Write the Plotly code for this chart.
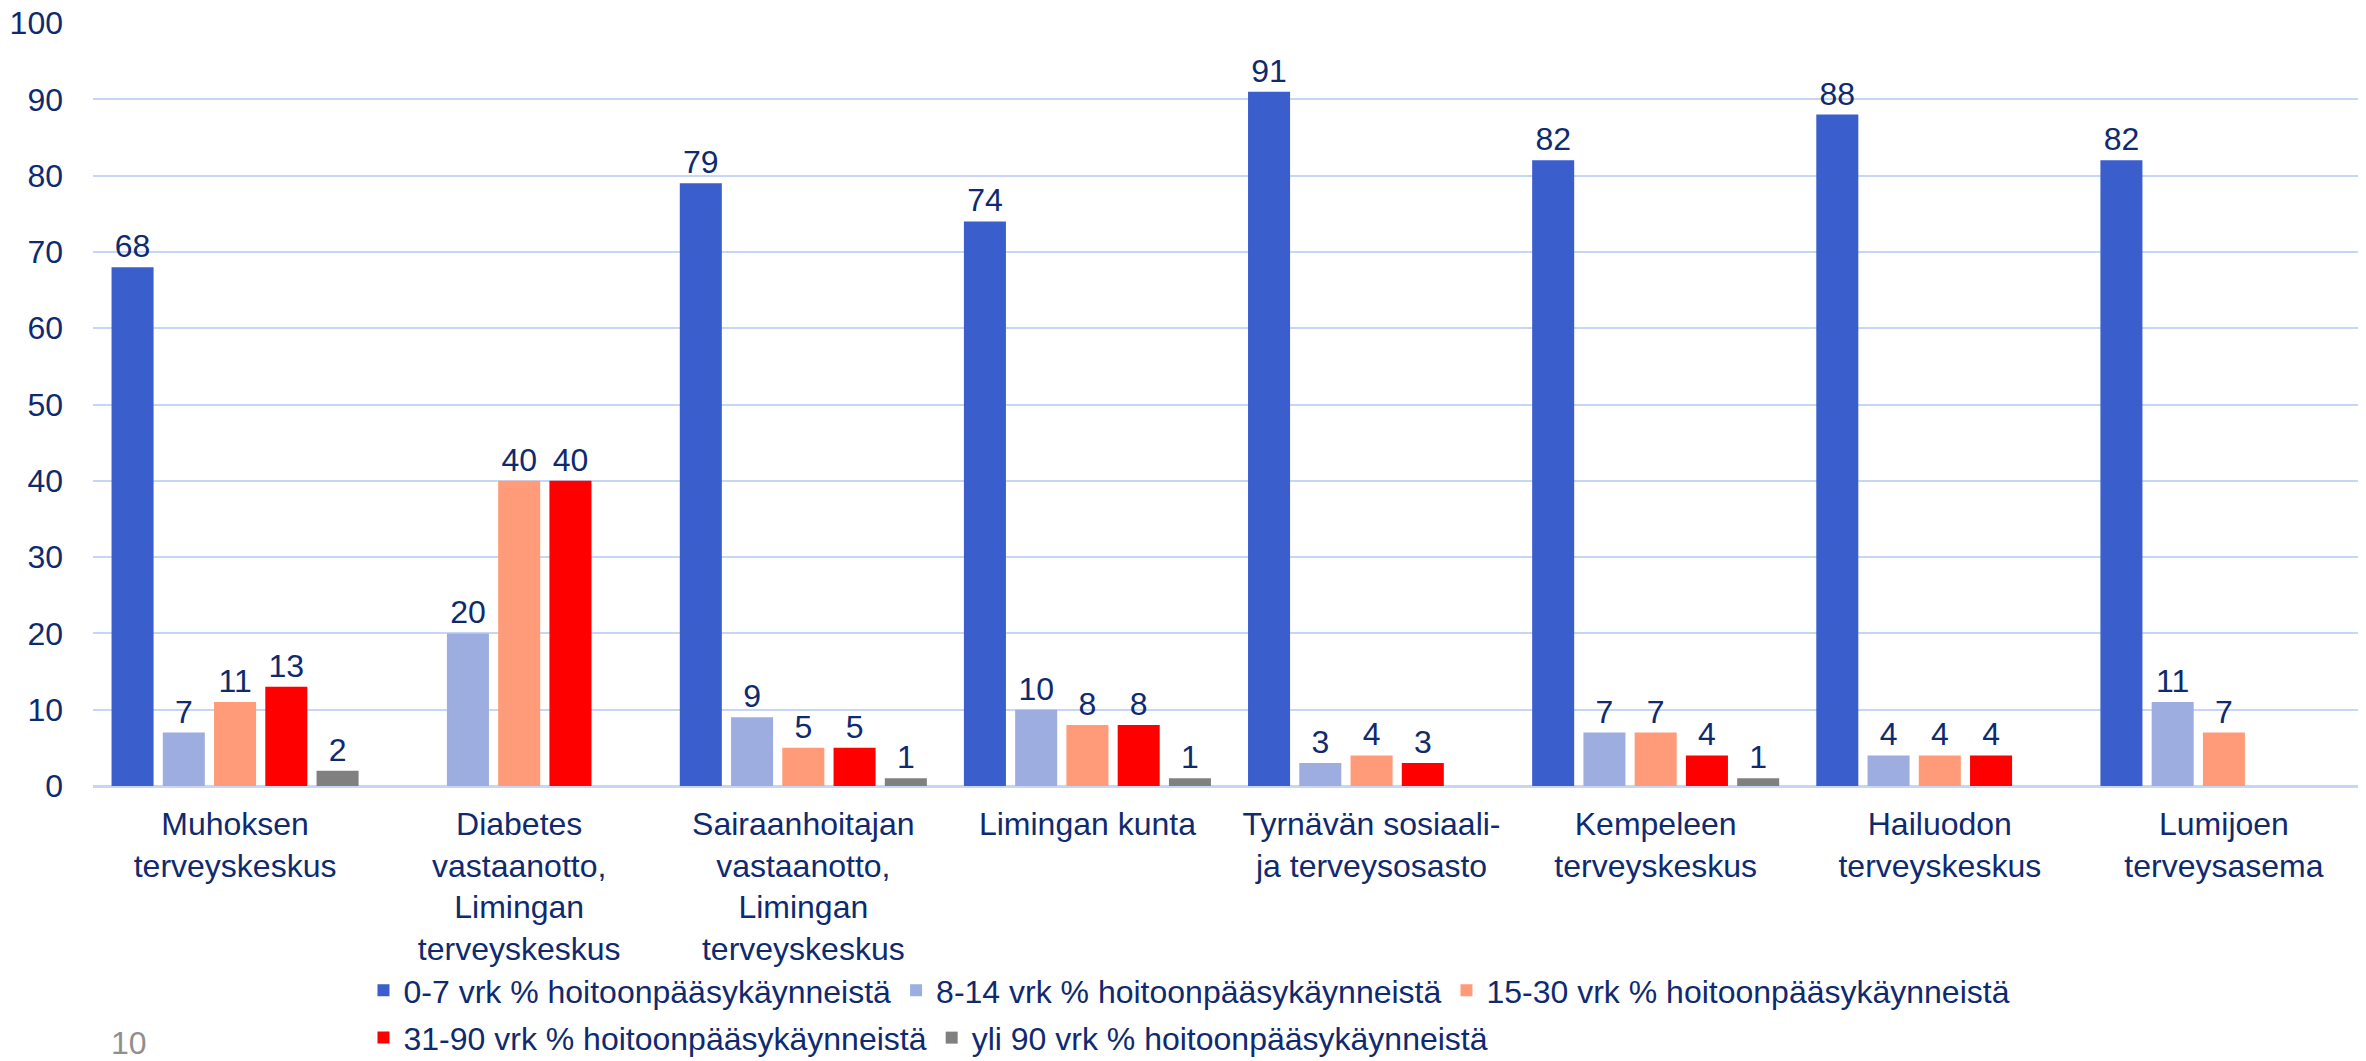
import plotly.graph_objects as go

categories = [
    "Muhoksen<br>terveyskeskus",
    "Diabetes<br>vastaanotto,<br>Limingan<br>terveyskeskus",
    "Sairaanhoitajan<br>vastaanotto,<br>Limingan<br>terveyskeskus",
    "Limingan kunta",
    "Tyrnävän sosiaali-<br>ja terveysosasto",
    "Kempeleen<br>terveyskeskus",
    "Hailuodon<br>terveyskeskus",
    "Lumijoen<br>terveysasema",
]

series_names = [
    "0-7 vrk % hoitoonpääsykäynneistä",
    "8-14 vrk % hoitoonpääsykäynneistä",
    "15-30 vrk % hoitoonpääsykäynneistä",
    "31-90 vrk % hoitoonpääsykäynneistä",
    "yli 90 vrk % hoitoonpääsykäynneistä",
]

v_0_7 = [68, None, 79, 74, 91, 82, 88, 82]
v_8_14 = [7, 20, 9, 10, 3, 7, 4, 11]
v_15_30 = [11, 40, 5, 8, 4, 7, 4, 7]
v_31_90 = [13, 40, 5, 8, 3, 4, 4, None]
v_yli_90 = [2, None, 1, 1, None, 1, None, None]

y_ticks = [0, 10, 20, 30, 40, 50, 60, 70, 80, 90, 100]

colors = ["#3A5ECC", "#9DADE0", "#FF9B78", "#FF0000", "#808080"]
legend_ids = ["legend", "legend", "legend", "legend2", "legend2"]
text_color = "#0F2A6E"
font_family = "Liberation Sans, Arial, sans-serif"

fig = go.Figure()
for name, vals, col, lg in zip(series_names, [v_0_7, v_8_14, v_15_30, v_31_90, v_yli_90], colors, legend_ids):
    fig.add_trace(go.Bar(
        x=categories,
        y=vals,
        name=name,
        legend=lg,
        marker=dict(color=col, line=dict(width=0)),
        text=[("" if v is None else str(v)) for v in vals],
        textposition="outside",
        textfont=dict(size=32, color=text_color, family=font_family),
        cliponaxis=False,
    ))

legend_common = dict(
    orientation="h",
    xanchor="left",
    yanchor="top",
    font=dict(size=32, color=text_color, family=font_family),
    itemwidth=30,
    bgcolor="rgba(0,0,0,0)",
)

fig.update_layout(
    width=2358,
    height=1053,
    margin=dict(l=85, r=0, t=15, b=275, autoexpand=False),
    paper_bgcolor="white",
    plot_bgcolor="white",
    barmode="group",
    bargap=0.098,
    bargroupgap=0.18,
    font=dict(family=font_family, color=text_color, size=31),
    xaxis=dict(
        showgrid=False,
        showline=False,
        ticks="",
        tickfont=dict(size=32, color=text_color),
        ticklabelstandoff=16,
        automargin=False,
    ),
    yaxis=dict(
        range=[0, 100],
        tickvals=y_ticks,
        showgrid=True,
        gridcolor="#C8D6F6",
        gridwidth=2,
        zeroline=True,
        zerolinecolor="#C8D6F6",
        zerolinewidth=3,
        showline=False,
        ticks="",
        tickfont=dict(size=32, color=text_color),
        ticklabelstandoff=29,
        ticklabeloverflow="allow",
        automargin=False,
    ),
    legend=dict(x=0.119, y=-0.232, **legend_common),
    legend2=dict(x=0.119, y=-0.294, **legend_common),
    showlegend=True,
    annotations=[
        dict(
            text="10",
            xref="paper", yref="paper",
            x=0.007, y=-0.311,
            xanchor="left", yanchor="top",
            showarrow=False,
            font=dict(size=32, color="#8F8F8F", family=font_family),
        )
    ],
)

fig.write_html("out.html")
